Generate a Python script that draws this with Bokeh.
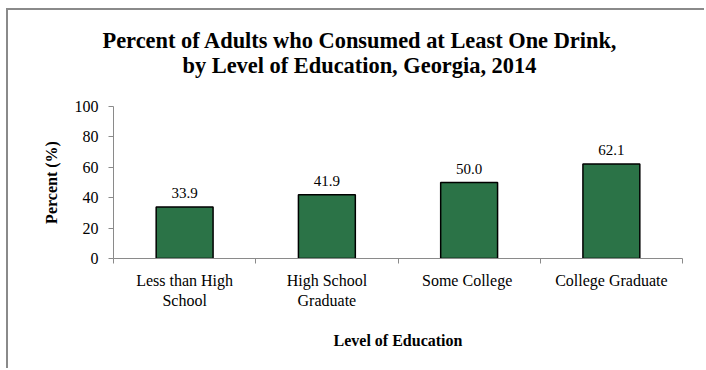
from bokeh.plotting import figure
from bokeh.models import FixedTicker, Range1d, ColumnDataSource, Title, InlineStyleSheet
from bokeh.embed import file_html
from bokeh.resources import INLINE
from bokeh.core.properties import value

categories = ["Less than High\nSchool", "High School\nGraduate", "Some  College", "College Graduate"]
percent = [33.9, 41.9, 50.0, 62.1]
y_ticks = [0, 20, 40, 60, 80, 100]
title_lines = ["Percent of Adults who Consumed at Least One Drink,",
               "by Level of Education, Georgia, 2014"]

FONT = "Liberation Serif"
GRAY = "#8a8a8a"
W, H = 698, 360

xs = [i + 0.5 for i in range(len(categories))]
bounds = list(range(len(categories) + 1))
src = ColumnDataSource(dict(x=xs, top=percent, lbl=[f"{v:.1f}" for v in percent]))

p = figure(width=W, height=H, output_backend="svg", toolbar_location=None,
           x_range=Range1d(0, len(categories)), y_range=Range1d(0, 100),
           min_border_left=105, min_border_right=24,
           min_border_top=96, min_border_bottom=112)
p.stylesheets = [InlineStyleSheet(css=(
    f":host {{ border-left: 2px solid {GRAY}; border-top: 2px solid {GRAY};"
    " margin-left: 6px; margin-top: 8px; }"))]
p.outline_line_color = None
p.grid.visible = False
p.background_fill_color = "white"

p.vbar(x="x", top="top", width=0.4, source=src, fill_color="#2b7347",
       line_color="black", line_width=1.5)
p.text(x="x", y="top", text="lbl", source=src, text_align="center",
       text_baseline="alphabetic", y_offset=-14, text_font=value(FONT),
       text_font_size="15px", text_color="black")

# title: two lines, centred over the whole chart (left-aligned with offsets)
p.title.visible = False
p.add_layout(Title(text=title_lines[1], align="left", offset=69, standoff=58,
                   text_font=FONT, text_font_size="22.4px", text_font_style="bold",
                   text_color="black"), "above")
p.add_layout(Title(text=title_lines[0], align="left", offset=-11, standoff=-62,
                   text_font=FONT, text_font_size="22.4px", text_font_style="bold",
                   text_color="black"), "above")

# y axis
ya = p.yaxis[0]
ya.ticker = FixedTicker(ticks=y_ticks)
ya.axis_line_color = GRAY
ya.major_tick_line_color = GRAY
ya.major_tick_out = 5
ya.major_tick_in = 0
ya.minor_tick_line_color = None
ya.major_label_text_font = FONT
ya.major_label_text_font_size = "16px"
ya.major_label_text_color = "black"
ya.major_label_standoff = 10
ya.axis_label = "Percent (%)"
ya.axis_label_text_font = FONT
ya.axis_label_text_font_size = "16px"
ya.axis_label_text_font_style = "bold"
ya.axis_label_text_color = "black"
ya.axis_label_standoff = 12

# x axis: labels at category centres, ticks (minor) at boundaries
xa = p.xaxis[0]
xa.ticker = FixedTicker(ticks=xs, minor_ticks=bounds)
xa.major_label_overrides = {x: c for x, c in zip(xs, categories)}
xa.axis_line_color = GRAY
xa.major_tick_line_color = None
xa.major_tick_out = 0
xa.major_tick_in = 0
xa.minor_tick_line_color = GRAY
xa.minor_tick_out = 5
xa.minor_tick_in = 0
xa.major_label_text_font = FONT
xa.major_label_text_font_size = "16px"
xa.major_label_text_color = "black"
xa.major_label_standoff = 8
xa.axis_label = "Level of Education"
xa.axis_label_text_font = FONT
xa.axis_label_text_font_size = "16px"
xa.axis_label_text_font_style = "bold"
xa.axis_label_text_color = "black"
xa.axis_label_standoff = 20

open("out.html", "w").write(file_html(p, INLINE))
